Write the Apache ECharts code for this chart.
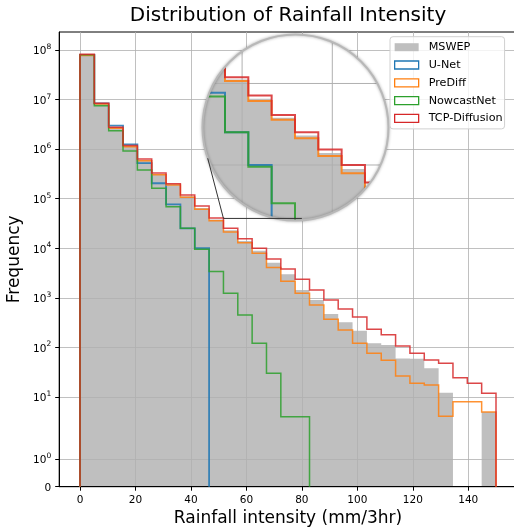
<!DOCTYPE html>
<html lang="en">
<head>
<meta charset="UTF-8">
<title>Distribution of Rainfall Intensity</title>
<script src="https://cdn.jsdelivr.net/npm/echarts@6/dist/echarts.min.js"></script>
<style>
    html, body { margin: 0; padding: 0; background: #fff; }
    #main { width: 514px; height: 529px; }
</style>
</head>
<body>
<div id="main"></div>
<script>
    // 29 equal bins on [0, 150]
    var binCount = 29, binMax = 150;
    var edges = [];
    for (var i = 0; i <= binCount; i++) edges.push(i * binMax / binCount);

    // counts per bin
    var mswep   = [8.0e7, 8.3e6, 2.8e6, 1.17e6, 6.0e5, 3.15e5, 1.95e5, 1.12e5, 6.5e4, 3.8e4, 2.3e4, 1.4e4, 8.9e3, 5.1e3, 3.0e3,
                   1.44e3, 905, 472, 321, 217, 121, 112, 60, 59, 38, 12.2, 0, 0, 5];
    var unet    = [8.0e7, 8.4e6, 2.97e6, 1.25e6, 5.2e5, 2.05e5, 7.7e4, 2.53e4, 1.0e4, 0, 0, 0, 0, 0, 0,
                   0, 0, 0, 0, 0, 0, 0, 0, 0, 0, 0, 0, 0, 0];
    var prediff = [7.7e7, 8.1e6, 2.63e6, 1.12e6, 5.85e5, 3.05e5, 1.89e5, 1.07e5, 6.1e4, 3.6e4, 2.13e4, 1.29e4, 7.9e3, 4.1e3, 2.16e3,
                   1.24e3, 718, 369, 224, 121, 76, 55, 26.5, 18.9, 17.5, 4.1, 8, 8, 5];
    var nowcast = [8.0e7, 7.5e6, 2.35e6, 9.2e5, 3.8e5, 1.62e5, 6.9e4, 2.53e4, 9.5e3, 3.4e3, 1.24e3, 451, 121, 30, 4,
                   4, 0, 0, 0, 0, 0, 0, 0, 0, 0, 0, 0, 0, 0];
    var tcp     = [8.2e7, 8.4e6, 2.75e6, 1.19e6, 6.3e5, 3.3e5, 2.0e5, 1.19e5, 7.1e4, 4.1e4, 2.53e4, 1.55e4, 1.0e4, 6.1e3, 3.8e3,
                   2.37e3, 1.44e3, 905, 596, 410, 233, 180, 107, 76, 56, 48, 24.5, 18.9, 11.9];

    var yTickValues = [0, 1, 10, 1e2, 1e3, 1e4, 1e5, 1e6, 1e7, 1e8];
    var yTickLabels = ['0', '10^0', '10^1', '10^2', '10^3', '10^4', '10^5', '10^6', '10^7', '10^8'];
    var xTickValues = [0, 20, 40, 60, 80, 100, 120, 140];
    var insetXTicks = [40, 60];
    var insetYTicks = [1e4, 1e5];

    // symlog, linthresh 2, linscale 1 (result in decades)
    var LT = 2, LSA = 1 / (1 - 1 / 10);
    function symlog(v) { return v <= LT ? v * LSA / LT : LSA + Math.log10(v / LT); }

    var GRAY = '#bfbfbf';
    var lines = [
        {name: 'U-Net', values: unet, color: '#1f77b4', width: 1.8},
        {name: 'PreDiff', values: prediff, color: '#ff7f0e', width: 1.5},
        {name: 'NowcastNet', values: nowcast, color: '#2ca02c', width: 1.5},
        {name: 'TCP-Diffusion', values: tcp, color: '#d62728', width: 1.5}
    ];

    // inset window (zoomed view)
    var inset = {left: 202.5, top: 34.5, size: 186};
    var insetX = [31.22, 72.46], insetY = [4.129, 6.411];
    var zoomMark = {x0: edges[10], x1: 80, y: 4e4};
    var anchorAngle = 160.7 * Math.PI / 180;

    function stepPoints(values) {
        var last = values.length - 1;
        while (last > 0 && !values[last]) last--;
        var pts = [[edges[0], 0]];
        for (var i = 0; i <= last; i++) {
            pts.push([edges[i], values[i]], [edges[i + 1], values[i]]);
        }
        pts.push([edges[last + 1], 0]);
        return pts;
    }

    function toPixels(api, values) {
        return stepPoints(values).map(function (p) { return api.coord([p[0], symlog(p[1])]); });
    }

    function stepShape(api, s) {
        return {
            type: 'polyline',
            shape: {points: toPixels(api, s.values)},
            style: {stroke: s.color, lineWidth: s.width, fill: null, opacity: 0.85}
        };
    }

    function barShape(api) {
        return {type: 'polygon', shape: {points: toPixels(api, mswep)}, style: {fill: GRAY}};
    }

    var series = [{
        name: 'MSWEP', type: 'custom', xAxisIndex: 0, yAxisIndex: 0, z: 1,
        itemStyle: {color: GRAY}, silent: true,
        data: [[0, 0]],
        renderItem: function (params, api) { return barShape(api); }
    }];
    lines.forEach(function (s) {
        series.push({
            name: s.name, type: 'custom', xAxisIndex: 0, yAxisIndex: 0, z: 3, silent: true,
            itemStyle: {color: s.color},
            data: [[0, 0]],
            renderItem: function (params, api) { return stepShape(api, s); }
        });
    });

    // magnified view, clipped to a circle
    series.push({
        type: 'custom', xAxisIndex: 1, yAxisIndex: 1, z: 5, silent: true,
        data: [[insetX[0], insetY[0]]],
        renderItem: function (params, api) {
            var cs = params.coordSys;
            var cx = cs.x + cs.width / 2, cy = cs.y + cs.height / 2, r = cs.width / 2;
            var children = [{type: 'rect', shape: {x: cs.x, y: cs.y, width: cs.width, height: cs.height}, style: {fill: '#fff'}}];
            children.push(barShape(api));
            insetXTicks.forEach(function (t) {
                var a = api.coord([t, insetY[0]]), b = api.coord([t, insetY[1]]);
                children.push({type: 'line', shape: {x1: a[0], y1: a[1], x2: b[0], y2: b[1]},
                    style: {stroke: '#b0b0b0', lineWidth: 1}});
            });
            insetYTicks.forEach(function (t) {
                var a = api.coord([insetX[0], symlog(t)]), b = api.coord([insetX[1], symlog(t)]);
                children.push({type: 'line', shape: {x1: a[0], y1: a[1], x2: b[0], y2: b[1]},
                    style: {stroke: '#b0b0b0', lineWidth: 1}});
            });
            lines.forEach(function (s) {
                var sh = stepShape(api, s);
                sh.style.lineWidth = 2;
                children.push(sh);
            });
            return {type: 'group', clipPath: {type: 'circle', shape: {cx: cx, cy: cy, r: r}}, children: children};
        }
    });

    var FONT = 'DejaVu Sans';
    var chart = echarts.init(document.getElementById('main'));
    chart.setOption({
        animation: false,
        backgroundColor: '#fff',
        grid: [
            {left: 59.2, top: 32, width: 457.6, height: 454.7, show: true, borderColor: '#000', borderWidth: 1,
                outerBoundsMode: 'none', containLabel: false},
            {left: inset.left, top: inset.top, width: inset.size, height: inset.size,
                outerBoundsMode: 'none', containLabel: false}
        ],
        xAxis: [{
            type: 'value', gridIndex: 0, min: -7.5, max: 157.5, z: 2,
            name: 'Rainfall intensity (mm/3hr)', nameLocation: 'middle', nameGap: 23, nameMoveOverlap: false,
            nameTextStyle: {fontFamily: FONT, fontSize: 17, color: '#000'},
            axisLine: {show: true, onZero: false, lineStyle: {color: '#000', width: 1}},
            axisTick: {show: true, length: 4, customValues: xTickValues, lineStyle: {color: '#000'}},
            axisLabel: {customValues: xTickValues, margin: 8, fontFamily: FONT, fontSize: 10.5, color: '#000'},
            splitLine: {show: true, lineStyle: {color: '#b0b0b0', width: 0.8}}
        }, {
            type: 'value', gridIndex: 1, min: insetX[0], max: insetX[1], show: false
        }],
        yAxis: [{
            type: 'value', gridIndex: 0, min: 0, max: 9.173, z: 2,
            name: 'Frequency', nameLocation: 'middle', nameGap: 36, nameMoveOverlap: false,
            nameTextStyle: {fontFamily: FONT, fontSize: 17, color: '#000'},
            axisLine: {show: true, onZero: false, lineStyle: {color: '#000', width: 1}},
            axisTick: {show: true, length: 4, customValues: yTickValues.map(symlog), lineStyle: {color: '#000'}},
            axisLabel: {
                customValues: yTickValues.map(symlog), margin: 8, fontFamily: FONT, fontSize: 10.5, color: '#000',
                formatter: function (val) {
                    for (var i = 0; i < yTickValues.length; i++) {
                        if (Math.abs(symlog(yTickValues[i]) - val) < 1e-6) {
                            var parts = yTickLabels[i].split('^');
                            return parts.length > 1 ? '{b|' + parts[0] + '}{s|' + parts[1] + '}' : '{b|' + parts[0] + '}';
                        }
                    }
                    return '';
                },
                rich: {
                    b: {fontFamily: FONT, fontSize: 10.5, color: '#000', lineHeight: 14, verticalAlign: 'bottom', padding: [3, 0, 0, 0]},
                    s: {fontFamily: FONT, fontSize: 7.5, color: '#000', lineHeight: 9, verticalAlign: 'top'}
                }
            },
            splitLine: {show: true, lineStyle: {color: '#b0b0b0', width: 0.8}}
        }, {
            type: 'value', gridIndex: 1, min: insetY[0], max: insetY[1], show: false
        }],
        legend: {
            orient: 'vertical', left: 390, top: 36.7,
            itemWidth: 24, itemHeight: 8, itemGap: 3.8,
            padding: [3.5, 2, 3.5, 4],
            backgroundColor: 'rgba(255,255,255,0.8)', borderColor: '#d0d0d0', borderWidth: 1, borderRadius: 3,
            textStyle: {fontFamily: FONT, fontSize: 11.2, color: '#000', lineHeight: 14, padding: [0, 0, 0, 5]},
            selectedMode: false, z: 10,
            data: [{name: 'MSWEP', icon: 'rect', itemStyle: {color: GRAY, borderWidth: 0}}].concat(lines.map(function (s) {
                return {name: s.name, icon: 'rect', itemStyle: {color: '#fff', borderColor: s.color, borderWidth: 1.3}};
            }))
        },
        series: series
    });

    // circle rim, zoom marker and title
    var cx = inset.left + inset.size / 2, cy = inset.top + inset.size / 2, r = inset.size / 2;
    var c0 = chart.convertToPixel({gridIndex: 0}, [zoomMark.x0, symlog(zoomMark.y)]);
    var c1 = chart.convertToPixel({gridIndex: 0}, [zoomMark.x1, symlog(zoomMark.y)]);
    chart.setOption({
        graphic: [
            {type: 'circle', z: 6, silent: true, shape: {cx: cx, cy: cy, r: r},
                style: {fill: null, stroke: '#b8b8b8', lineWidth: 2, shadowBlur: 3, shadowColor: 'rgba(0,0,0,0.35)'}},
            {type: 'line', z: 7, silent: true, shape: {x1: c0[0], y1: c0[1], x2: c1[0], y2: c1[1]},
                style: {stroke: '#333', lineWidth: 1}},
            {type: 'line', z: 7, silent: true,
                shape: {x1: c0[0], y1: c0[1], x2: cx + r * Math.cos(anchorAngle), y2: cy + r * Math.sin(anchorAngle)},
                style: {stroke: '#333', lineWidth: 1}},
            {type: 'text', z: 7, silent: true, x: 288, y: 16,
                style: {text: 'Distribution of Rainfall Intensity', fontFamily: FONT, fontSize: 20, fill: '#000',
                    align: 'center', verticalAlign: 'middle', textAlign: 'center', textVerticalAlign: 'middle'}}
        ]
    });
</script>
</body>
</html>
